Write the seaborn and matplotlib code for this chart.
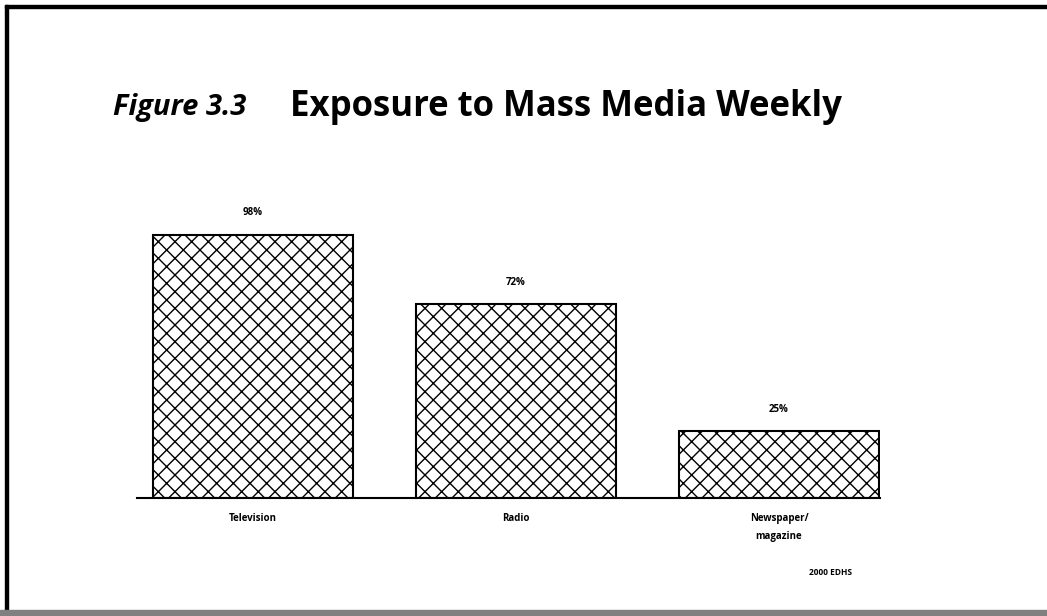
import matplotlib
matplotlib.use('Agg')
import matplotlib.pyplot as plt
import seaborn as sns
import pandas as pd
from matplotlib.patches import Rectangle

# data
media = ['Television', 'Radio', 'Newspaper/\nmagazine']
exposure = [98, 72, 25]
value_labels = ['98%', '72%', '25%']

df = pd.DataFrame({'media': media, 'exposure': exposure})

sns.set_style('white')
plt.rcParams['font.family'] = ['Open Sans', 'DejaVu Sans']
plt.rcParams['text.color'] = 'black'
plt.rcParams['xtick.color'] = 'black'
plt.rcParams['hatch.linewidth'] = 1.0

fig = plt.figure(figsize=(10.47, 6.16), dpi=100)
ax = fig.add_axes([0.131, 0.1916, 0.7095, 0.48])

sns.barplot(data=df, x='media', y='exposure', ax=ax, color='white',
            edgecolor='black', linewidth=1.5, width=0.76, saturation=1)
for bar in ax.patches:
    bar.set_hatch('xx')

for bar, lab in zip(ax.patches, value_labels):
    ax.text(bar.get_x() + bar.get_width() / 2, bar.get_height() + 6, lab,
            ha='center', va='bottom', fontsize=7, fontweight='bold')

ax.set_xlim(-0.44, 2.384)
ax.set_ylim(0, 110)
ax.set_xlabel('')
ax.set_ylabel('')
ax.set_yticks([])
ax.tick_params(axis='x', length=0, labelsize=7, pad=11, labelcolor='black')
for t in ax.get_xticklabels():
    t.set_fontweight('bold')
    t.set_linespacing(1.8)
for s in ['top', 'right', 'left']:
    ax.spines[s].set_visible(False)
ax.spines['bottom'].set_linewidth(1.5)
ax.spines['bottom'].set_color('black')

# title
fig.text(0.108, 0.826, 'Figure 3.3', fontsize=21, fontweight='bold',
         fontstyle='italic', va='center', ha='left')
fig.text(0.277, 0.826, 'Exposure to Mass Media Weekly', fontsize=25,
         fontweight='bold', va='center', ha='left')

fig.text(0.793, 0.0714, '2000 EDHS', fontsize=6, fontweight='bold',
         ha='center', va='center')

# page frame
fig.patches.append(Rectangle((0.005, 0.0), 0.003, 0.992, transform=fig.transFigure,
                             color='black', zorder=5))
fig.patches.append(Rectangle((0.005, 0.987), 0.995, 0.005, transform=fig.transFigure,
                             color='black', zorder=5))
fig.patches.append(Rectangle((0.0, 0.0), 1.0, 0.0097, transform=fig.transFigure,
                             color='#808080', zorder=5))

fig.savefig('out.png', dpi=100)
